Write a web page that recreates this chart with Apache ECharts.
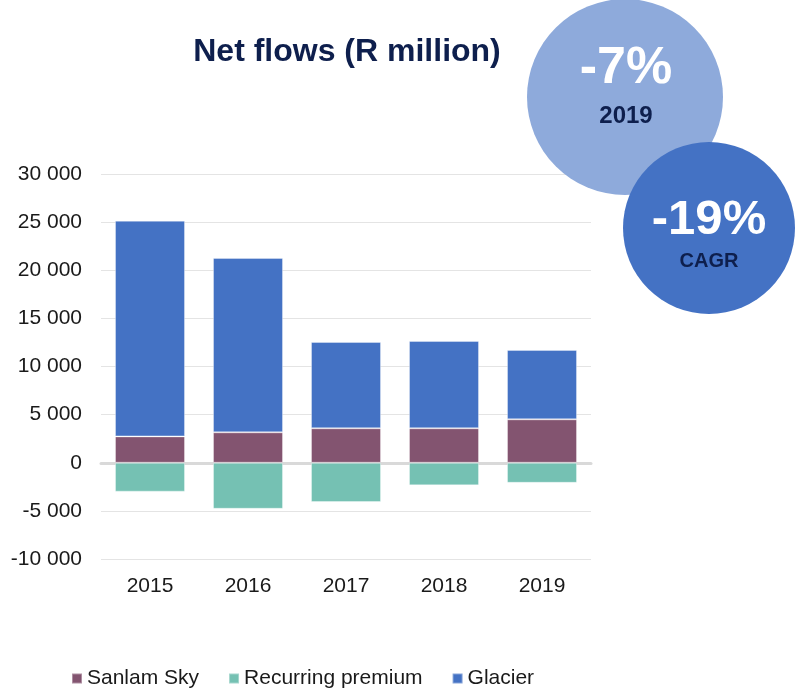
<!DOCTYPE html>
<html>
<head>
<meta charset="utf-8">
<script src="https://cdn.jsdelivr.net/npm/echarts@6/dist/echarts.min.js"></script>
<style>
  html, body { margin: 0; padding: 0; background: #fff; }
  #chart { width: 795px; height: 700px; }
</style>
</head>
<body>
<div id="chart"></div>
<script>
  var years = ['2015', '2016', '2017', '2018', '2019'];
  var sanlamSky = [2740, 3160, 3580, 3580, 4510];
  var recurringPremium = [-3000, -4780, -4080, -2350, -2080];
  var glacier = [22410, 18120, 8970, 9070, 7210];

  var font = 'Liberation Sans, Arial, sans-serif';
  var navy = '#0e1f4d';

  function fmt(v) {
    var s = String(Math.abs(v)).replace(/\B(?=(\d{3})+(?!\d))/g, ' ');
    return (v < 0 ? '-' : '') + s;
  }

  var chart = echarts.init(document.getElementById('chart'));

  var barStyle = function (color) {
    return { color: color, borderColor: 'rgba(255,255,255,0.35)', borderWidth: 1 };
  };

  chart.setOption({
    animation: false,
    textStyle: { fontFamily: font },
    title: {
      text: 'Net flows (R million)',
      left: 342,
      textAlign: 'center',
      top: 31,
      textStyle: { fontSize: 32, fontWeight: 'bold', color: navy, fontFamily: font }
    },
    grid: { left: 101, right: 204, top: 174, bottom: 141 },
    legend: {
      left: 66,
      top: 663,
      icon: 'rect',
      itemWidth: 10,
      itemHeight: 10,
      itemGap: 29,
      textStyle: { fontSize: 21, color: '#1a1a1a', fontFamily: font },
      data: ['Sanlam Sky', 'Recurring premium', 'Glacier']
    },
    xAxis: [{
      type: 'category',
      data: years,
      axisLine: { show: false, onZero: false },
      axisTick: { show: false },
      axisLabel: { fontSize: 21, color: '#1a1a1a', margin: 17 }
    }, {
      type: 'category',
      data: years,
      position: 'bottom',
      axisLine: { show: true, onZero: true, lineStyle: { color: '#d9d9d9', width: 3 } },
      axisTick: { show: false },
      axisLabel: { show: false }
    }],
    yAxis: {
      type: 'value',
      min: -10000,
      max: 30000,
      interval: 5000,
      axisLine: { show: false },
      axisTick: { show: false },
      splitLine: { lineStyle: { color: '#e4e4e4', width: 1 } },
      axisLabel: { fontSize: 21, color: '#1a1a1a', margin: 19, formatter: fmt }
    },
    series: [{
      name: 'Sanlam Sky',
      type: 'bar',
      stack: 'total',
      barWidth: 70,
      data: sanlamSky,
      itemStyle: barStyle('#835470')
    }, {
      name: 'Recurring premium',
      type: 'bar',
      stack: 'total',
      barWidth: 70,
      data: recurringPremium,
      itemStyle: barStyle('#75c1b3')
    }, {
      name: 'Glacier',
      type: 'bar',
      stack: 'total',
      barWidth: 70,
      data: glacier,
      itemStyle: barStyle('#4472c4')
    }],
    graphic: [{
      type: 'circle',
      shape: { cx: 625, cy: 97, r: 98 },
      style: { fill: '#8eaadb' },
      z: 10
    }, {
      type: 'text',
      x: 626, y: 69,
      style: { text: '-7%', fill: '#fff', font: 'bold 52px ' + font, align: 'center', verticalAlign: 'middle' },
      z: 11
    }, {
      type: 'text',
      x: 626, y: 116,
      style: { text: '2019', fill: navy, font: 'bold 24px ' + font, align: 'center', verticalAlign: 'middle' },
      z: 11
    }, {
      type: 'text',
      x: 709, y: 220,
      style: { text: '-19%', fill: '#fff', font: 'bold 49px ' + font, align: 'center', verticalAlign: 'middle' },
      z: 13
    }, {
      type: 'circle',
      shape: { cx: 709, cy: 228, r: 86 },
      style: { fill: '#4472c4' },
      z: 12
    }, {
      type: 'text',
      x: 709, y: 261,
      style: { text: 'CAGR', fill: navy, font: 'bold 20px ' + font, align: 'center', verticalAlign: 'middle' },
      z: 13
    }]
  });
</script>
</body>
</html>
